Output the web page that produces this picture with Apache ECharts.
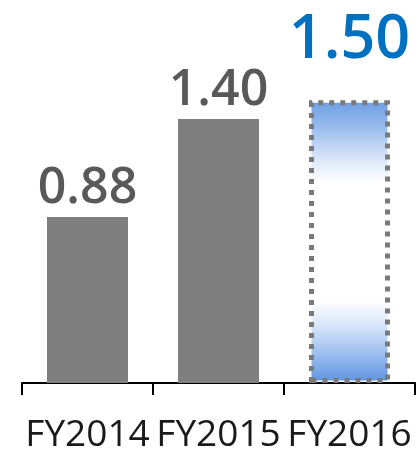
<!DOCTYPE html>
<html><head><meta charset="utf-8">
<script src="https://cdn.jsdelivr.net/npm/echarts@6/dist/echarts.min.js"></script>
<style>html,body{margin:0;padding:0;background:#fff}#c{width:419px;height:451px}</style>
</head><body><div id="c"></div>
<script>
const categories = ['FY2014', 'FY2015', 'FY2016'];
const values = [0.88, 1.40, 1.50];
const labelTexts = ['0.88', '1.40', '1.50'];
const isForecast = [false, false, true];

const chart = echarts.init(document.getElementById('c'));
const data = values.map((v, i) => {
  if (!isForecast[i]) return { value: v };
  return {
    value: v,
    itemStyle: {
      color: new echarts.graphic.LinearGradient(0, 0, 0, 1, [
        { offset: 0, color: '#6d9ee3' },
        { offset: 0.1, color: '#9bbdee' },
        { offset: 0.2, color: '#d6e4f8' },
        { offset: 0.29, color: '#ffffff' },
        { offset: 0.71, color: '#ffffff' },
        { offset: 0.8, color: '#d6e4f8' },
        { offset: 0.9, color: '#9bbdee' },
        { offset: 1, color: '#5b93e0' }
      ]),
      borderColor: '#7a7a7a',
      borderWidth: 5,
      borderType: [5, 6]
    },
    label: { color: '#0070c0', fontSize: 61, fontWeight: 600, distance: 29 }
  };
});

chart.setOption({
  animation: false,
  grid: { left: 22, right: 4, top: 6, bottom: 68, containLabel: false, outerBoundsMode: 'none' },
  xAxis: {
    type: 'category',
    data: categories,
    boundaryGap: true,
    axisLine: { lineStyle: { color: '#000', width: 2 } },
    axisTick: { show: true, alignWithLabel: false, length: 12, lineStyle: { color: '#000', width: 2 } },
    axisLabel: { color: '#1a1a1a', fontSize: 37, fontFamily: 'Open Sans', margin: 34, interval: 0 }
  },
  yAxis: { type: 'value', min: 0, max: 2, show: false, splitLine: { show: false } },
  series: [{
    type: 'bar',
    barWidth: 81,
    data: data,
    itemStyle: { color: '#7f7f7f' },
    label: {
      show: true,
      position: 'top',
      distance: 3,
      formatter: p => labelTexts[p.dataIndex],
      color: '#595959',
      fontSize: 50,
      fontWeight: 600,
      fontFamily: 'Open Sans'
    }
  }]
});
</script></body></html>
